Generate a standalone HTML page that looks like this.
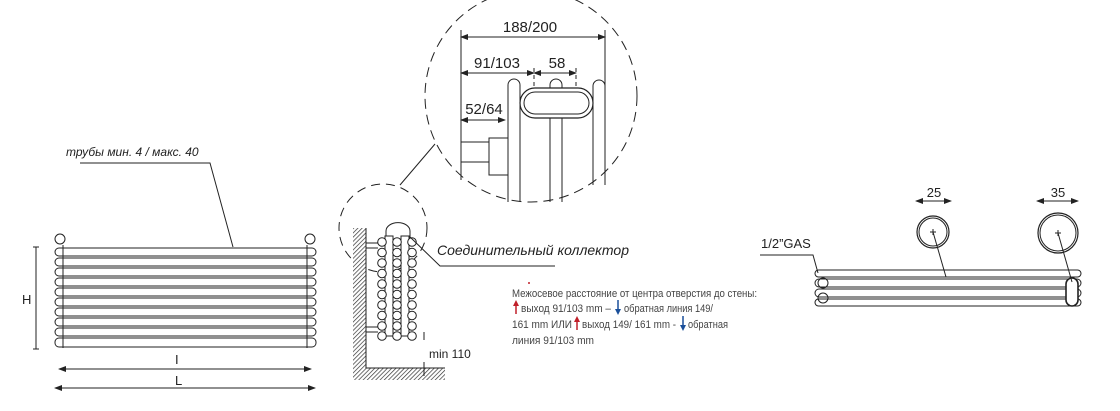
<!DOCTYPE html>
<html><head><meta charset="utf-8"><style>
html,body{margin:0;padding:0;background:#fff;}
svg{display:block;}
text{font-family:"Liberation Sans","DejaVu Sans",sans-serif;fill:#222;}
</style></head><body>
<svg width="1120" height="411" viewBox="0 0 1120 411" xmlns="http://www.w3.org/2000/svg">
<defs>
<pattern id="h" width="3" height="3" patternUnits="userSpaceOnUse" patternTransform="rotate(45)">
<rect width="3" height="3" fill="#fff"/><line x1="0" y1="0" x2="0" y2="3" stroke="#333" stroke-width="1.4"/>
</pattern>
<marker id="a" markerWidth="8" markerHeight="6" refX="7" refY="3" orient="auto-start-reverse" markerUnits="userSpaceOnUse"><path d="M0,0 L8,3 L0,6z" fill="#222"/></marker>
</defs>
<g stroke="#222" fill="none" stroke-width="1">
<text x="66" y="156" font-size="12" font-style="italic" stroke="none">трубы мин. 4 / макс. 40</text>
<polyline points="80,163 210,163 233,247"/>
<circle cx="60" cy="239" r="5"/><circle cx="310" cy="239" r="5"/>
<g>
<rect x="55" y="248" width="261" height="8" rx="4"/>
<rect x="55" y="258" width="261" height="8" rx="4"/>
<rect x="55" y="268" width="261" height="8" rx="4"/>
<rect x="55" y="278" width="261" height="8" rx="4"/>
<rect x="55" y="288" width="261" height="8" rx="4"/>
<rect x="55" y="298" width="261" height="8" rx="4"/>
<rect x="55" y="308" width="261" height="8" rx="4"/>
<rect x="55" y="318" width="261" height="8" rx="4"/>
<rect x="55" y="328" width="261" height="8" rx="4"/>
<rect x="55" y="338" width="261" height="9" rx="4"/>
</g>
<line x1="63" y1="245" x2="63" y2="348"/><line x1="307" y1="245" x2="307" y2="348"/>
<line x1="36" y1="247" x2="36" y2="349"/><line x1="33" y1="247" x2="39" y2="247"/><line x1="33" y1="349" x2="39" y2="349"/>
<text x="22" y="304" font-size="13" stroke="none">H</text>
<line x1="59" y1="369" x2="311" y2="369" marker-start="url(#a)" marker-end="url(#a)"/>
<text x="175" y="364" font-size="13" stroke="none">I</text>
<line x1="55" y1="388" x2="315" y2="388" marker-start="url(#a)" marker-end="url(#a)"/>
<text x="175" y="385" font-size="13" stroke="none">L</text>

<circle cx="531" cy="96" r="106" stroke-dasharray="10,6"/>
<line x1="400" y1="185" x2="435" y2="144"/>
<line x1="461" y1="30" x2="461" y2="180"/>
<line x1="605" y1="30" x2="605" y2="183"/>
<line x1="461" y1="37" x2="605" y2="37" marker-start="url(#a)" marker-end="url(#a)"/>
<text x="530" y="32" font-size="15" text-anchor="middle" stroke="none">188/200</text>
<line x1="461" y1="73" x2="534" y2="73" marker-start="url(#a)" marker-end="url(#a)"/>
<text x="497" y="68" font-size="15" text-anchor="middle" stroke="none">91/103</text>
<line x1="534" y1="73" x2="576" y2="73" marker-start="url(#a)" marker-end="url(#a)"/>
<text x="557" y="68" font-size="15" text-anchor="middle" stroke="none">58</text>
<line x1="534" y1="68" x2="534" y2="110" stroke-dasharray="4,3"/>
<line x1="576" y1="68" x2="576" y2="105" stroke-dasharray="4,3"/>
<line x1="461" y1="120" x2="505" y2="120" marker-start="url(#a)" marker-end="url(#a)"/>
<text x="484" y="114" font-size="15" text-anchor="middle" stroke="none">52/64</text>
<path d="M508,202 V85 a6,6 0 0 1 12,0 V202"/>
<path d="M550,202 V85 a6,6 0 0 1 12,0 V202"/>
<path d="M593,185 V86 a6,6 0 0 1 12,0 V185"/>
<rect x="520" y="88" width="73" height="30" rx="15" fill="#fff" stroke-width="1.2"/>
<rect x="524" y="92" width="65" height="22" rx="11"/>
<rect x="461" y="142" width="28" height="20"/>
<rect x="489" y="138" width="19" height="37"/>

<circle cx="383" cy="228" r="44" stroke-dasharray="9,6"/>
<rect x="353" y="228" width="13" height="152" fill="url(#h)" stroke="none"/>
<rect x="353" y="368" width="92" height="12" fill="url(#h)" stroke="none"/>
<polyline points="366,228 366,368 445,368" />
<line x1="366" y1="243" x2="378" y2="243"/><line x1="366" y1="248" x2="378" y2="248"/>
<line x1="366" y1="327" x2="378" y2="327"/><line x1="366" y1="332" x2="378" y2="332"/>
<path d="M386,238 V231 a10,7 0 0 1 24,0 V238"/>
<rect x="385" y="236" width="8" height="100" fill="#fff"/>
<rect x="401" y="236" width="8" height="100" fill="#fff"/>
<g fill="#fff">
<circle cx="382" cy="242" r="4.3"/><circle cx="382" cy="252.5" r="4.3"/><circle cx="382" cy="263" r="4.3"/><circle cx="382" cy="273.5" r="4.3"/><circle cx="382" cy="284" r="4.3"/><circle cx="382" cy="294.5" r="4.3"/><circle cx="382" cy="305" r="4.3"/><circle cx="382" cy="315.5" r="4.3"/><circle cx="382" cy="326" r="4.3"/><circle cx="382" cy="336" r="4.3"/>
<circle cx="397" cy="242" r="4.3"/><circle cx="397" cy="252.5" r="4.3"/><circle cx="397" cy="263" r="4.3"/><circle cx="397" cy="273.5" r="4.3"/><circle cx="397" cy="284" r="4.3"/><circle cx="397" cy="294.5" r="4.3"/><circle cx="397" cy="305" r="4.3"/><circle cx="397" cy="315.5" r="4.3"/><circle cx="397" cy="326" r="4.3"/><circle cx="397" cy="336" r="4.3"/>
<circle cx="412" cy="242" r="4.3"/><circle cx="412" cy="252.5" r="4.3"/><circle cx="412" cy="263" r="4.3"/><circle cx="412" cy="273.5" r="4.3"/><circle cx="412" cy="284" r="4.3"/><circle cx="412" cy="294.5" r="4.3"/><circle cx="412" cy="305" r="4.3"/><circle cx="412" cy="315.5" r="4.3"/><circle cx="412" cy="326" r="4.3"/><circle cx="412" cy="336" r="4.3"/>
</g>
<polyline points="409,236 440,266 555,266"/>
<text x="437" y="255" font-size="14" font-style="italic" stroke="none">Соединительный коллектор</text>
<line x1="424" y1="332" x2="424" y2="340"/><line x1="424" y1="362" x2="424" y2="376"/>
<line x1="421" y1="368" x2="427" y2="368"/>
<text x="429" y="358" font-size="12" stroke="none">min 110</text>

<text x="761" y="248" font-size="13" stroke="none">1/2”GAS</text>
<polyline points="760,255 813,255 818,273"/>
<rect x="815" y="270" width="266" height="7" rx="3.5"/>
<rect x="815" y="279" width="266" height="8" rx="4"/>
<rect x="815" y="289" width="266" height="8" rx="4"/>
<rect x="815" y="299" width="266" height="7" rx="3.5"/>
<circle cx="823" cy="283" r="5"/><circle cx="823" cy="298" r="5"/>
<rect x="1066" y="278" width="12" height="28" rx="6" stroke-width="1.6" fill="#fff"/>
<circle cx="933" cy="232" r="16" stroke-width="1.2"/><circle cx="933" cy="232" r="14"/>
<circle cx="1058" cy="233" r="20" stroke-width="1.2"/><circle cx="1058" cy="233" r="18"/>
<line x1="930" y1="232" x2="936" y2="232"/><line x1="933" y1="229" x2="933" y2="235"/>
<line x1="1055" y1="233" x2="1061" y2="233"/><line x1="1058" y1="230" x2="1058" y2="236"/>
<line x1="933" y1="232" x2="946" y2="277"/>
<line x1="1058" y1="233" x2="1072" y2="282"/>
<line x1="916" y1="201" x2="951" y2="201" marker-start="url(#a)" marker-end="url(#a)"/>
<text x="934" y="197" font-size="13" text-anchor="middle" stroke="none">25</text>
<line x1="1037" y1="201" x2="1078" y2="201" marker-start="url(#a)" marker-end="url(#a)"/>
<text x="1058" y="197" font-size="13" text-anchor="middle" stroke="none">35</text>
</g>
<g font-size="11">
<text x="512" y="297" textLength="245" lengthAdjust="spacingAndGlyphs" style="fill:#444">Межосевое расстояние от центра отверстия до стены:</text>
<text x="521" y="312" textLength="90" lengthAdjust="spacingAndGlyphs" style="fill:#444">выход 91/103 mm –</text>
<text x="624" y="312" textLength="89" lengthAdjust="spacingAndGlyphs" style="fill:#444">обратная линия 149/</text>
<text x="512" y="328" textLength="60" lengthAdjust="spacingAndGlyphs" style="fill:#444">161 mm ИЛИ</text>
<text x="582" y="328" textLength="94" lengthAdjust="spacingAndGlyphs" style="fill:#444">выход 149/ 161 mm -</text>
<text x="688" y="328" textLength="40" lengthAdjust="spacingAndGlyphs" style="fill:#444">обратная</text>
<text x="512" y="344" textLength="82" lengthAdjust="spacingAndGlyphs" style="fill:#444">линия 91/103 mm</text>
</g>
<g stroke-width="1.5">
<line x1="516" y1="303" x2="516" y2="314" stroke="#c0202a"/><path d="M513,306 L516,300 L519,306z" fill="#c0202a"/>
<line x1="577" y1="319" x2="577" y2="330" stroke="#c0202a"/><path d="M574,322 L577,316 L580,322z" fill="#c0202a"/>
<line x1="618" y1="300" x2="618" y2="310" stroke="#1a4f9a"/><path d="M615,309 L618,315 L621,309z" fill="#1a4f9a"/>
<line x1="683" y1="316" x2="683" y2="326" stroke="#1a4f9a"/><path d="M680,325 L683,331 L686,325z" fill="#1a4f9a"/>
</g>
<circle cx="529" cy="283" r="1" fill="#c0202a"/>
</svg>
</body></html>
